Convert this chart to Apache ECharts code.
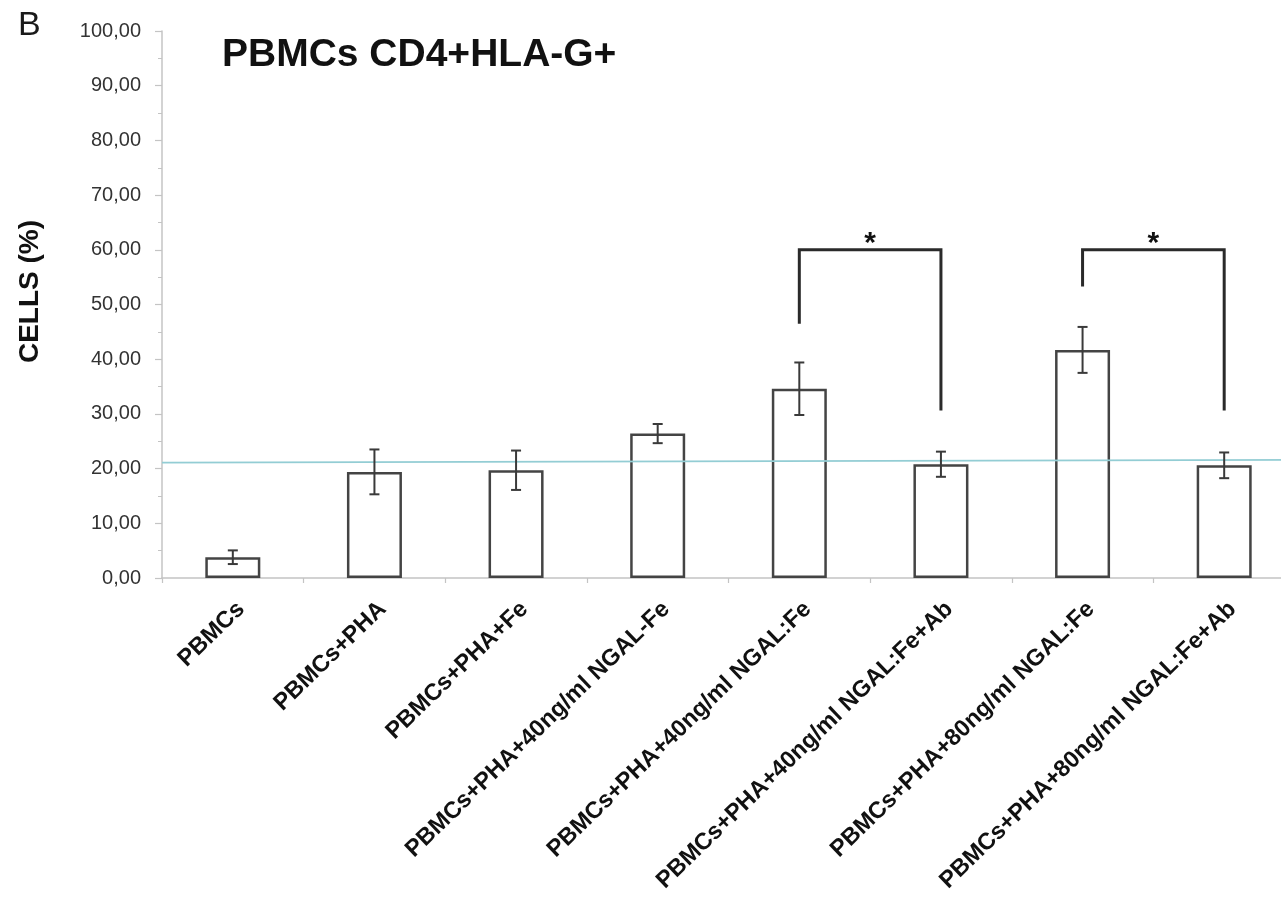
<!DOCTYPE html>
<html>
<head>
<meta charset="utf-8">
<title>PBMCs CD4+HLA-G+</title>
<script src="https://cdn.jsdelivr.net/npm/echarts@6/dist/echarts.min.js"></script>
<style>
  html, body { margin: 0; padding: 0; background: #ffffff; overflow: hidden; }
  /* the plot runs slightly past the right edge of the window */
  #chart { width: 1300px; height: 900px; }
</style>
</head>
<body>
<div id="chart"></div>
<script>
// Experimental groups (x axis)
const categories = [
  'PBMCs',
  'PBMCs+PHA',
  'PBMCs+PHA+Fe',
  'PBMCs+PHA+40ng/ml NGAL-Fe',
  'PBMCs+PHA+40ng/ml NGAL:Fe',
  'PBMCs+PHA+40ng/ml NGAL:Fe+Ab',
  'PBMCs+PHA+80ng/ml NGAL:Fe',
  'PBMCs+PHA+80ng/ml NGAL:Fe+Ab'
];
// Mean percentage of CD4+HLA-G+ cells and the error (±)
const meanValues = [3.8, 19.4, 19.7, 26.4, 34.6, 20.8, 41.7, 20.6];
const errorValues = [1.25, 4.1, 3.6, 1.75, 4.8, 2.3, 4.2, 2.35];
// Y axis ticks
const yTicks = { min: 0, max: 100, interval: 10 };
// Significance brackets: [left group, right group, left leg bottom, right leg bottom, top]
const brackets = [
  [4, 5, 46.5, 30.6, 60],
  [6, 7, 53.3, 30.6, 60]
];
const bracketMark = '*';
// Reference level line across the plot: [start x, start y], [end x, end y]
const referenceLine = [[0, 21.1], [8, 21.6]];

const chart = echarts.init(document.getElementById('chart'), null, { renderer: 'canvas' });

const axisGray = '#c4c4c4';
const inkDark = '#3a3a3a';
const font = 'Liberation Sans, Arial, sans-serif';

const option = {
  backgroundColor: '#ffffff',
  animation: false,
  title: {
    text: 'PBMCs CD4+HLA-G+',
    left: 217,
    top: 31,
    textStyle: {
      fontFamily: font,
      fontWeight: 'bold',
      fontSize: 39,
      color: '#111111'
    }
  },
  graphic: [
    {
      type: 'text',
      left: 18,
      top: 9,
      style: {
        text: 'B',
        fontFamily: font,
        fontSize: 34,
        fill: '#1a1a1a'
      }
    }
  ],
  grid: {
    left: 162,
    top: 31,
    width: 1133,
    height: 547,
    containLabel: false
  },
  xAxis: [
    {
      type: 'category',
      data: categories,
      boundaryGap: true,
      axisLine: { show: true, lineStyle: { color: axisGray, width: 1.5 } },
      axisTick: { show: true, alignWithLabel: false, length: 5, lineStyle: { color: axisGray, width: 1.2 } },
      axisLabel: {
        interval: 0,
        rotate: 44,
        margin: 19,
        verticalAlign: 'top',
        fontFamily: font,
        fontWeight: 'bold',
        fontSize: 23.5,
        color: '#111111'
      },
      splitLine: { show: false }
    },
    {
      type: 'value',
      min: 0,
      max: 8,
      show: false
    }
  ],
  yAxis: {
    type: 'value',
    min: yTicks.min,
    max: yTicks.max,
    interval: yTicks.interval,
    name: 'CELLS (%)',
    nameLocation: 'middle',
    nameGap: 118,
    nameRotate: 90,
    nameTextStyle: {
      fontFamily: font,
      fontWeight: 'bold',
      fontSize: 28,
      color: '#111111',
      padding: [0, 0, 0, 26]
    },
    axisLine: { show: true, lineStyle: { color: axisGray, width: 1.5 } },
    axisTick: { show: true, length: 7, lineStyle: { color: axisGray, width: 1.2 } },
    minorTick: { show: true, splitNumber: 2, length: 4, lineStyle: { color: axisGray, width: 1 } },
    axisLabel: {
      margin: 21,
      fontFamily: font,
      fontSize: 20,
      color: '#333333',
      formatter: function (v) { return v.toFixed(2).replace('.', ','); }
    },
    splitLine: { show: false }
  },
  series: [
    {
      name: 'CELLS (%)',
      type: 'bar',
      data: meanValues,
      barWidth: 55,
      itemStyle: {
        color: '#ffffff',
        borderColor: '#444444',
        borderWidth: 2.5
      },
      z: 2
    },
    {
      name: 'error',
      type: 'custom',
      data: meanValues.map(function (m, i) { return [i, m, errorValues[i]]; }),
      renderItem: function (params, api) {
        const i = api.value(0);
        const m = api.value(1);
        const e = api.value(2);
        const top = api.coord([i, m + e]);
        const bot = api.coord([i, m - e]);
        const cap = 5;
        const style = { stroke: inkDark, lineWidth: 2 };
        return {
          type: 'group',
          children: [
            { type: 'line', shape: { x1: top[0], y1: top[1], x2: bot[0], y2: bot[1] }, style: style },
            { type: 'line', shape: { x1: top[0] - cap, y1: top[1], x2: top[0] + cap, y2: top[1] }, style: style },
            { type: 'line', shape: { x1: bot[0] - cap, y1: bot[1], x2: bot[0] + cap, y2: bot[1] }, style: style }
          ]
        };
      },
      z: 4
    },
    {
      name: 'reference',
      type: 'line',
      xAxisIndex: 1,
      data: referenceLine,
      symbol: 'none',
      lineStyle: { color: '#93cdd4', width: 1.6 },
      z: 3
    },
    {
      name: 'significance',
      type: 'custom',
      data: brackets,
      renderItem: function (params, api) {
        const a = api.value(0);
        const b = api.value(1);
        const la = api.coord([a, api.value(2)]);
        const lt = api.coord([a, api.value(4)]);
        const rt = api.coord([b, api.value(4)]);
        const rb = api.coord([b, api.value(3)]);
        return {
          type: 'group',
          children: [
            {
              type: 'polyline',
              shape: { points: [la, lt, rt, rb] },
              style: { stroke: '#2a2a2a', lineWidth: 3, fill: null, lineJoin: 'miter' }
            },
            {
              type: 'text',
              style: {
                text: bracketMark,
                x: (lt[0] + rt[0]) / 2,
                y: lt[1] + 9,
                textAlign: 'center',
                textVerticalAlign: 'bottom',
                fontFamily: font,
                fontWeight: 'bold',
                fontSize: 30,
                fill: '#111111'
              }
            }
          ]
        };
      },
      z: 5
    }
  ]
};

chart.setOption(option);
</script>
</body>
</html>
